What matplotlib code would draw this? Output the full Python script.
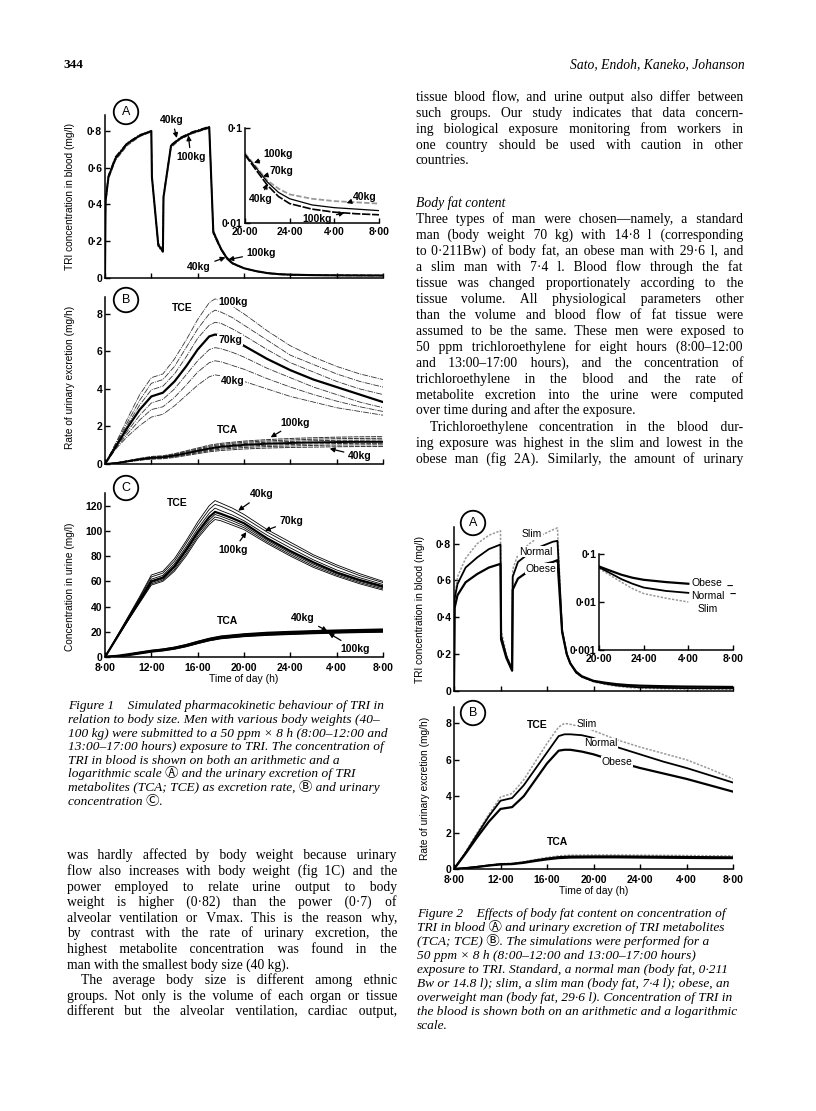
import matplotlib
matplotlib.use('Agg')
import matplotlib.pyplot as plt
from matplotlib.font_manager import FontProperties
import numpy as np

# ------------------------------------------------------------------ data
# hours after 8:00
t_blood = [0.0, 0.05, 0.3, 0.9, 1.9, 3.0, 4.0, 4.05, 4.6, 5.0, 5.05, 5.7, 6.5, 7.5, 8.5, 9.0,
           9.35, 10.0, 10.5, 11.0, 12.0, 13.0, 14.0, 15.0, 16.0, 18.0, 20.0, 22.0, 24.0]
blood_40 = [0.0, 0.40, 0.54, 0.64, 0.72, 0.77, 0.795, 0.55, 0.19, 0.155, 0.43, 0.71, 0.755, 0.785, 0.805,
            0.815, 0.26, 0.165, 0.115, 0.083, 0.054, 0.039, 0.028, 0.023, 0.020, 0.018, 0.017, 0.0165, 0.016]
blood_70 = [0.0, 0.42, 0.55, 0.65, 0.73, 0.775, 0.80, 0.55, 0.18, 0.145, 0.44, 0.72, 0.76, 0.79, 0.81,
            0.82, 0.25, 0.16, 0.11, 0.08, 0.053, 0.038, 0.027, 0.021, 0.018, 0.0155, 0.0145, 0.014, 0.0135]
blood_100 = [0.0, 0.43, 0.56, 0.66, 0.735, 0.78, 0.80, 0.55, 0.17, 0.14, 0.45, 0.725, 0.765, 0.795, 0.815,
             0.825, 0.24, 0.155, 0.105, 0.077, 0.052, 0.036, 0.025, 0.019, 0.016, 0.014, 0.013, 0.0125, 0.0122]

t_tce = [0, 1, 2, 3, 4, 5, 6, 7, 8, 9, 9.5, 10, 11, 12, 14, 16, 18, 20, 22, 24]
weights = ['40kg', '50kg', '60kg', '70kg', '80kg', '90kg', '100kg']
tce_rate = {
    '40kg':  [0, 0.85, 1.5, 2.05, 2.5, 2.65, 3.1, 3.65, 4.2, 4.65, 4.75, 4.7, 4.55, 4.4, 4.0, 3.6, 3.3, 3.0, 2.8, 2.6],
    '50kg':  [0, 0.9, 1.65, 2.35, 2.9, 3.05, 3.55, 4.2, 4.9, 5.4, 5.5, 5.45, 5.25, 5.05, 4.55, 4.1, 3.7, 3.35, 3.05, 2.8],
    '60kg':  [0, 0.95, 1.8, 2.6, 3.25, 3.45, 4.0, 4.75, 5.5, 6.1, 6.2, 6.15, 5.95, 5.7, 5.1, 4.6, 4.1, 3.7, 3.3, 3.0],
    '70kg':  [0, 1.0, 2.0, 2.9, 3.6, 3.8, 4.4, 5.2, 6.1, 6.8, 6.9, 6.85, 6.6, 6.3, 5.6, 5.0, 4.5, 4.1, 3.7, 3.3],
    '80kg':  [0, 1.1, 2.15, 3.15, 3.95, 4.15, 4.8, 5.7, 6.7, 7.4, 7.55, 7.5, 7.2, 6.85, 6.1, 5.4, 4.9, 4.4, 4.0, 3.7],
    '90kg':  [0, 1.15, 2.3, 3.4, 4.3, 4.5, 5.2, 6.2, 7.2, 8.0, 8.2, 8.1, 7.8, 7.4, 6.6, 5.8, 5.3, 4.8, 4.4, 4.1],
    '100kg': [0, 1.2, 2.5, 3.7, 4.6, 4.8, 5.6, 6.6, 7.7, 8.6, 8.8, 8.7, 8.4, 8.0, 7.1, 6.3, 5.7, 5.2, 4.8, 4.5],
}
tce_conc = {
    '40kg':  [0, 16, 32, 48, 65, 68, 78, 92, 107, 120, 124, 122, 118, 113, 101, 91, 81, 73, 66, 60],
    '50kg':  [0, 15.7, 31.3, 47, 63.5, 66.5, 76, 90, 104.5, 117, 121, 119.5, 115.5, 110.5, 99, 89, 79.5, 71.5, 64.5, 59],
    '60kg':  [0, 15.3, 30.6, 46, 61.7, 64.7, 74, 87.5, 101.7, 114, 118, 116, 112.5, 108, 96.5, 86.5, 77, 69, 62.8, 57.5],
    '70kg':  [0, 15, 30, 45, 60, 63, 72, 85, 99, 111, 115, 113.5, 110, 106, 94, 84, 75, 67, 61, 56],
    '80kg':  [0, 14.8, 29.6, 44.3, 59, 62, 70.7, 83.5, 97.3, 108.7, 113, 111.5, 108, 104, 92.5, 82.5, 73.5, 66, 60, 55],
    '90kg':  [0, 14.6, 29.3, 43.6, 58, 61, 69.3, 81.7, 95.6, 106.8, 111, 109.8, 106.2, 102.5, 91.2, 81.2, 72.2, 65, 59, 54],
    '100kg': [0, 14.5, 29, 43, 57, 60, 68, 80, 94, 105, 109, 108, 104.5, 101, 90, 80, 71, 64, 58, 53],
}
t_tca = [0, 1, 2, 3, 4, 5, 6, 7, 8, 9, 10, 12, 14, 16, 18, 20, 22, 24]
tca_rate = {
    '40kg':  [0, 0.04, 0.12, 0.2, 0.26, 0.28, 0.35, 0.45, 0.55, 0.65, 0.72, 0.8, 0.85, 0.88, 0.9, 0.92, 0.93, 0.93],
    '50kg':  [0, 0.045, 0.13, 0.22, 0.28, 0.31, 0.38, 0.49, 0.6, 0.71, 0.79, 0.88, 0.93, 0.96, 0.99, 1.01, 1.02, 1.02],
    '60kg':  [0, 0.05, 0.14, 0.23, 0.31, 0.34, 0.42, 0.53, 0.65, 0.76, 0.85, 0.95, 1.0, 1.04, 1.07, 1.09, 1.1, 1.1],
    '70kg':  [0, 0.05, 0.15, 0.25, 0.33, 0.36, 0.45, 0.57, 0.7, 0.82, 0.92, 1.02, 1.08, 1.12, 1.15, 1.17, 1.18, 1.18],
    '80kg':  [0, 0.055, 0.16, 0.27, 0.35, 0.39, 0.49, 0.62, 0.75, 0.88, 0.98, 1.09, 1.16, 1.2, 1.24, 1.26, 1.27, 1.28],
    '90kg':  [0, 0.058, 0.17, 0.28, 0.37, 0.41, 0.52, 0.66, 0.8, 0.94, 1.04, 1.16, 1.23, 1.28, 1.32, 1.35, 1.36, 1.37],
    '100kg': [0, 0.06, 0.18, 0.3, 0.4, 0.44, 0.55, 0.7, 0.85, 1.0, 1.1, 1.22, 1.3, 1.36, 1.4, 1.43, 1.45, 1.46],
}
tca_conc = {
    '40kg':  [0, 0.5, 1.9, 3.4, 4.9, 6.0, 7.5, 9.6, 12.2, 14.6, 16.4, 18.2, 19.4, 20.1, 20.7, 21.2, 21.6, 22.0],
    '70kg':  [0, 0.5, 1.8, 3.2, 4.6, 5.6, 7.0, 9.0, 11.5, 13.8, 15.5, 17.2, 18.3, 19.0, 19.6, 20.1, 20.5, 20.8],
    '100kg': [0, 0.45, 1.7, 3.0, 4.4, 5.3, 6.6, 8.5, 10.9, 13.1, 14.7, 16.4, 17.4, 18.1, 18.7, 19.2, 19.6, 19.9],
}

t_blood2 = [0, 0.05, 0.3, 1, 2, 3, 4, 4.05, 4.5, 5.0, 5.05, 5.5, 6.5, 7.5, 8.5, 8.9, 9.3, 9.7, 10, 10.5,
            11, 12, 13, 14, 15, 16, 18, 20, 22, 24]
blood2 = {
    'Slim':   [0, 0.50, 0.62, 0.72, 0.80, 0.845, 0.87, 0.33, 0.2, 0.12, 0.66, 0.74, 0.80, 0.845, 0.875, 0.885,
               0.33, 0.2, 0.15, 0.1, 0.075, 0.050, 0.036, 0.026, 0.019, 0.015, 0.012, 0.010, 0.009, 0.0085],
    'Normal': [0, 0.5, 0.58, 0.67, 0.725, 0.77, 0.795, 0.3, 0.19, 0.115, 0.62, 0.70, 0.75, 0.785, 0.81, 0.815,
               0.33, 0.2, 0.15, 0.1, 0.077, 0.053, 0.040, 0.030, 0.024, 0.020, 0.017, 0.0155, 0.0148, 0.0145],
    'Obese':  [0, 0.45, 0.52, 0.59, 0.635, 0.67, 0.69, 0.28, 0.18, 0.11, 0.55, 0.61, 0.655, 0.685, 0.70, 0.71,
               0.32, 0.2, 0.15, 0.105, 0.08, 0.055, 0.045, 0.037, 0.032, 0.029, 0.026, 0.024, 0.023, 0.022],
}
tce2 = {
    'Slim':   [0, 0.95, 2.0, 3.0, 3.95, 4.15, 4.9, 5.9, 6.9, 7.8, 8.0, 7.95, 7.8, 7.6, 7.1, 6.7, 6.35, 6.0, 5.5, 4.95],
    'Normal': [0, 0.9, 1.9, 2.9, 3.75, 3.9, 4.6, 5.5, 6.4, 7.3, 7.4, 7.4, 7.35, 7.2, 6.7, 6.3, 5.9, 5.55, 5.15, 4.75],
    'Obese':  [0, 0.85, 1.75, 2.6, 3.3, 3.4, 4.0, 4.9, 5.8, 6.5, 6.55, 6.55, 6.45, 6.3, 5.9, 5.55, 5.25, 4.95, 4.6, 4.25],
}
tca2 = {
    'Slim':   [0, 0.05, 0.13, 0.22, 0.29, 0.31, 0.4, 0.52, 0.63, 0.72, 0.76, 0.77, 0.77, 0.76, 0.75, 0.74, 0.73, 0.72],
    'Normal': [0, 0.05, 0.12, 0.2, 0.27, 0.29, 0.37, 0.48, 0.58, 0.66, 0.69, 0.70, 0.70, 0.69, 0.68, 0.67, 0.66, 0.65],
    'Obese':  [0, 0.045, 0.11, 0.19, 0.25, 0.27, 0.34, 0.44, 0.53, 0.60, 0.63, 0.64, 0.64, 0.63, 0.62, 0.61, 0.6, 0.6],
}

time_ticks = [0, 4, 8, 12, 16, 20, 24]
time_labels = ['8·00', '12·00', '16·00', '20·00', '24·00', '4·00', '8·00']
inset_ticks = [12, 16, 20, 24]
inset_labels = ['20·00', '24·00', '4·00', '8·00']

# ------------------------------------------------------------------ text
right_p1 = ["tissue blood flow, and urine output also differ between",
            "such groups. Our study indicates that data concern-",
            "ing biological exposure monitoring from workers in",
            "one country should be used with caution in other",
            "countries."]
right_head = "Body fat content"
right_p2 = ["Three types of man were chosen—namely, a standard",
            "man (body weight 70 kg) with 14·8 l (corresponding",
            "to 0·211Bw) of body fat, an obese man with 29·6 l, and",
            "a slim man with 7·4 l. Blood flow through the fat",
            "tissue was changed proportionately according to the",
            "tissue volume. All physiological parameters other",
            "than the volume and blood flow of fat tissue were",
            "assumed to be the same. These men were exposed to",
            "50 ppm trichloroethylene for eight hours (8:00–12:00",
            "and 13:00–17:00 hours), and the concentration of",
            "trichloroethylene in the blood and the rate of",
            "metabolite excretion into the urine were computed",
            "over time during and after the exposure."]
right_p3 = ["Trichloroethylene concentration in the blood dur-",
            "ing exposure was highest in the slim and lowest in the",
            "obese man (fig 2A). Similarly, the amount of urinary"]
left_p1 = ["was hardly affected by body weight because urinary",
           "flow also increases with body weight (fig 1C) and the",
           "power employed to relate urine output to body",
           "weight is higher (0·82) than the power (0·7) of",
           "alveolar ventilation or Vmax. This is the reason why,",
           "by contrast with the rate of urinary excretion, the",
           "highest metabolite concentration was found in the",
           "man with the smallest body size (40 kg)."]
left_p2 = ["The average body size is different among ethnic",
           "groups. Not only is the volume of each organ or tissue",
           "different but the alveolar ventilation, cardiac output,"]
cap1 = ["Figure 1    Simulated pharmacokinetic behaviour of TRI in",
        "relation to body size. Men with various body weights (40–",
        "100 kg) were submitted to a 50 ppm × 8 h (8:00–12:00 and",
        "13:00–17:00 hours) exposure to TRI. The concentration of",
        "TRI in blood is shown on both an arithmetic and a",
        "logarithmic scale Ⓐ and the urinary excretion of TRI",
        "metabolites (TCA; TCE) as excretion rate, Ⓑ and urinary",
        "concentration Ⓒ."]
cap2 = ["Figure 2    Effects of body fat content on concentration of",
        "TRI in blood Ⓐ and urinary excretion of TRI metabolites",
        "(TCA; TCE) Ⓑ. The simulations were performed for a",
        "50 ppm × 8 h (8:00–12:00 and 13:00–17:00 hours)",
        "exposure to TRI. Standard, a normal man (body fat, 0·211",
        "Bw or 14.8 l); slim, a slim man (body fat, 7·4 l); obese, an",
        "overweight man (body fat, 29·6 l). Concentration of TRI in",
        "the blood is shown both on an arithmetic and a logarithmic",
        "scale."]

# ------------------------------------------------------------------ figure
W, H = 816, 1111
fig = plt.figure(figsize=(W / 100, H / 100), dpi=100)
fig.patch.set_facecolor('white')
SANS = ['Liberation Sans', 'DejaVu Sans']
SERIF = ['Liberation Serif', 'DejaVu Serif', 'Noto Sans CJK JP', 'DejaVu Sans']


def px_axes(x0, x1, ytop, ybot):
    return fig.add_axes([x0 / W, 1 - ybot / H, (x1 - x0) / W, (ybot - ytop) / H])


def style(ax, yticks, ylabels, xticks, xlabels=None, xpad=4):
    for s in ['top', 'right']:
        ax.spines[s].set_visible(False)
    for s in ['left', 'bottom']:
        ax.spines[s].set_linewidth(1.1)
    ax.tick_params(direction='in', length=3.5, width=1.0, pad=2, labelsize=7.5)
    ax.tick_params(axis='x', pad=xpad)
    ax.set_yticks(yticks)
    ax.set_yticklabels(ylabels, fontweight='bold', family=SANS, fontsize=7.5)
    ax.set_xticks(xticks)
    if xlabels is None:
        ax.set_xticklabels([''] * len(xticks))
    else:
        ax.set_xticklabels(xlabels, fontweight='bold', family=SANS, fontsize=7.5)
    ax.minorticks_off()
    ax.set_facecolor('none')


LBL = dict(fontsize=7.5, fontweight='bold', family=SANS)
ARW = dict(arrowstyle='-|>', color='k', lw=0.9, mutation_scale=7, shrinkA=1, shrinkB=0)
WB = dict(fc='white', ec='none', pad=0.5)


def circ(x, y, s):
    fig.text(x / W, 1 - y / H, s, ha='center', va='center', fontsize=9, family=SANS,
             bbox=dict(boxstyle='circle,pad=0.5', fc='white', ec='k', lw=1.3))


def ylab(ax, s, x, y=0.5):
    ax.set_ylabel(s, fontsize=7.3, family=SANS)
    ax.yaxis.set_label_coords(x, y)


# ---------------- Figure 1 A
axA = px_axes(105, 383, 115, 278)
axA.plot(t_blood, blood_40, color='#555', lw=0.8, ls=(0, (5, 1.5)))
axA.plot(t_blood, blood_100, color='k', lw=0.8, ls=(0, (6, 1.5, 1, 1.5)))
axA.plot(t_blood, blood_70, color='k', lw=1.5)
axA.set_xlim(0, 24)
axA.set_ylim(0, 0.887)
style(axA, [0, 0.2, 0.4, 0.6, 0.8], ['0', '0·2', '0·4', '0·6', '0·8'], time_ticks)
ylab(axA, 'TRI concentration in blood (mg/l)', -0.108)
axA.annotate('40kg', xy=(6.2, 0.762), xytext=(5.8, 0.86), ha='center', va='center', arrowprops=ARW, **LBL)
axA.annotate('100kg', xy=(7.2, 0.776), xytext=(7.4, 0.66), ha='center', va='center', arrowprops=ARW, **LBL)
axA.annotate('100kg', xy=(10.65, 0.10), xytext=(13.5, 0.136), ha='center', va='center', arrowprops=ARW, **LBL)
axA.annotate('40kg', xy=(10.4, 0.112), xytext=(8.1, 0.06), ha='center', va='center', arrowprops=ARW, **LBL)

# inset
tb = np.array(t_blood)
m = tb >= 12
axI = px_axes(245, 379, 128, 223)
axI.plot(tb[m], np.array(blood_40)[m], color='#999', lw=1.3, ls=(0, (3, 1.2)))
axI.plot(tb[m], np.array(blood_100)[m], color='k', lw=1.2, ls=(0, (5, 1)))
axI.plot(tb[m], np.array(blood_70)[m], color='k', lw=0.9)
axI.set_yscale('log')
axI.set_xlim(12, 24)
axI.set_ylim(0.01, 0.1)
style(axI, [0.01, 0.1], ['0·01', '0·1'], inset_ticks, inset_labels, xpad=3)
axI.yaxis.set_minor_locator(matplotlib.ticker.NullLocator())
axI.annotate('100kg', xy=(12.8, 0.043), xytext=(15.0, 0.053), ha='center', va='center', arrowprops=ARW, **LBL)
axI.annotate('70kg', xy=(13.6, 0.031), xytext=(15.3, 0.035), ha='center', va='center', arrowprops=ARW, **LBL)
axI.annotate('40kg', xy=(14.0, 0.026), xytext=(13.4, 0.018), ha='center', va='center', arrowprops=ARW, **LBL)
axI.annotate('40kg', xy=(21.1, 0.0162), xytext=(22.7, 0.0187), ha='center', va='center', arrowprops=ARW, **LBL)
axI.annotate('100kg', xy=(20.9, 0.0128), xytext=(18.5, 0.011), ha='center', va='center', arrowprops=ARW, **LBL)

# ---------------- Figure 1 B
axB = px_axes(105, 383, 297, 464)
for w in weights:
    if w == '70kg':
        continue
    axB.plot(t_tce, tce_rate[w], color='#333', lw=0.6, ls=(0, (7, 1.3, 1.2, 1.3)))
    axB.plot(t_tca, tca_rate[w], color='#333', lw=0.7, ls=(0, (5, 1)))
axB.plot(t_tce, tce_rate['70kg'], color='k', lw=1.6)
axB.plot(t_tca, tca_rate['70kg'], color='k', lw=1.4)
axB.set_xlim(0, 24)
axB.set_ylim(0, 8.9)
style(axB, [0, 2, 4, 6, 8], ['0', '2', '4', '6', '8'], time_ticks)
ylab(axB, 'Rate of urinary excretion (mg/h)', -0.108, 0.52)
axB.text(6.7, 8.3, 'TCE', ha='center', va='center', **LBL)
axB.text(11.1, 8.65, '100kg', ha='center', va='center', bbox=WB, **LBL)
axB.text(10.8, 6.6, '70kg', ha='center', va='center', bbox=WB, **LBL)
axB.text(11.0, 4.43, '40kg', ha='center', va='center', bbox=WB, **LBL)
axB.text(10.6, 1.8, 'TCA', ha='center', va='center', **LBL)
axB.annotate('100kg', xy=(14.3, 1.42), xytext=(16.4, 2.2), ha='center', va='center', arrowprops=ARW, **LBL)
axB.annotate('40kg', xy=(19.4, 0.82), xytext=(22.0, 0.43), ha='center', va='center', arrowprops=ARW, **LBL)

# ---------------- Figure 1 C
axC = px_axes(105, 383, 493, 657)
for w in weights:
    axC.plot(t_tce, tce_conc[w], color='k', lw=1.6 if w == '70kg' else 0.6)
for w in ['40kg', '100kg']:
    axC.plot(t_tca, tca_conc[w], color='k', lw=1.2)
axC.plot(t_tca, tca_conc['70kg'], color='k', lw=2.2)
axC.set_xlim(0, 24)
axC.set_ylim(0, 130)
style(axC, [0, 20, 40, 60, 80, 100, 120], ['0', '20', '40', '60', '80', '100', '120'],
      time_ticks, time_labels, xpad=4)
ylab(axC, 'Concentration in urine (mg/l)', -0.108, 0.43)
axC.set_xlabel('Time of day (h)', fontsize=7.5, family=SANS, labelpad=1)
axC.text(6.2, 122, 'TCE', ha='center', va='center', **LBL)
axC.annotate('40kg', xy=(11.5, 116), xytext=(13.5, 129), ha='center', va='center', arrowprops=ARW, **LBL)
axC.annotate('70kg', xy=(13.8, 100), xytext=(16.1, 108), ha='center', va='center', arrowprops=ARW, **LBL)
axC.annotate('100kg', xy=(12.2, 99), xytext=(11.1, 85), ha='center', va='center', arrowprops=ARW, **LBL)
axC.text(10.6, 28.6, 'TCA', ha='center', va='center', **LBL)
axC.annotate('40kg', xy=(19.2, 20.5), xytext=(17.1, 31), ha='center', va='center', arrowprops=ARW, **LBL)
axC.annotate('100kg', xy=(19.3, 19), xytext=(21.6, 6.4), ha='center', va='center', arrowprops=ARW, **LBL)

circ(126, 112, 'A')
circ(126, 300, 'B')
circ(126, 488, 'C')

# ---------------- Figure 2 A
ST = {'Slim': dict(color='#999', lw=1.1, ls=(0, (1.5, 1))),
      'Normal': dict(color='k', lw=1.3),
      'Obese': dict(color='k', lw=1.6)}
a2 = px_axes(454, 733, 527, 691)
for k in ['Slim', 'Normal', 'Obese']:
    a2.plot(t_blood2, blood2[k], **ST[k])
a2.set_xlim(0, 24)
a2.set_ylim(0, 0.89)
style(a2, [0, 0.2, 0.4, 0.6, 0.8], ['0', '0·2', '0·4', '0·6', '0·8'], time_ticks)
ylab(a2, 'TRI concentration in blood (mg/l)', -0.104)
a2.text(6.7, 0.85, 'Slim', ha='center', va='center', fontsize=7.5, family=SANS, bbox=WB)
a2.text(7.0, 0.757, 'Normal', ha='center', va='center', fontsize=7.5, family=SANS, bbox=WB)
a2.text(7.5, 0.664, 'Obese', ha='center', va='center', fontsize=7.5, family=SANS, bbox=WB)

tb2 = np.array(t_blood2)
m2 = (tb2 >= 12) & (tb2 <= 20)
i2 = px_axes(599, 733, 554, 650)
for k in ['Slim', 'Normal', 'Obese']:
    i2.plot(tb2[m2], np.array(blood2[k])[m2], **ST[k])
i2.set_yscale('log')
i2.set_xlim(12, 24)
i2.set_ylim(0.001, 0.1)
style(i2, [0.001, 0.01, 0.1], ['0·001', '0·01', '0·1'], inset_ticks, inset_labels, xpad=3)
i2.yaxis.set_minor_locator(matplotlib.ticker.NullLocator())
i2.text(21.7, 0.025, 'Obese', ha='center', va='center', fontsize=7.5, family=SANS)
i2.text(21.75, 0.0133, 'Normal', ha='center', va='center', fontsize=7.5, family=SANS)
i2.text(21.75, 0.0071, 'Slim', ha='center', va='center', fontsize=7.5, family=SANS)
i2.text(23.7, 0.021, '–', ha='center', va='center', fontsize=8, fontweight='bold', family=SANS)
i2.text(24.0, 0.0142, '–', ha='center', va='center', fontsize=8, fontweight='bold', family=SANS)

# ---------------- Figure 2 B
b2 = px_axes(454, 733, 707, 869)
for k in ['Slim', 'Normal', 'Obese']:
    b2.plot(t_tce, tce2[k], **ST[k])
    b2.plot(t_tca, tca2[k], **ST[k])
b2.set_xlim(0, 24)
b2.set_ylim(0, 8.9)
style(b2, [0, 2, 4, 6, 8], ['0', '2', '4', '6', '8'], time_ticks, time_labels, xpad=4)
ylab(b2, 'Rate of urinary excretion (mg/h)', -0.086)
b2.set_xlabel('Time of day (h)', fontsize=7.5, family=SANS, labelpad=1)
b2.text(7.2, 7.9, 'TCE', ha='center', va='center', **LBL)
b2.text(11.4, 7.95, 'Slim', ha='center', va='center', fontsize=7.5, family=SANS, bbox=WB)
b2.text(12.65, 6.9, 'Normal', ha='center', va='center', fontsize=7.5, family=SANS, bbox=WB)
b2.text(14.0, 5.9, 'Obese', ha='center', va='center', fontsize=7.5, family=SANS, bbox=WB)
b2.text(8.9, 1.5, 'TCA', ha='center', va='center', **LBL)

circ(473, 523, 'A')
circ(473, 713, 'B')

# ------------------------------------------------------------------ page text
renderer = fig.canvas.get_renderer()
HS = '\u200a'   # hair space used for justification


def tw(s, fp):
    return renderer.get_text_width_height_descent(s, fp, ismath=False)[0]


def fit_size(groups, style_='normal'):
    ratio = 10.0
    fp10 = FontProperties(family=SERIF, size=10, style=style_)
    for lines, target in groups:
        for s in lines:
            ratio = min(ratio, 10.0 * target / tw(s, fp10))
    return ratio


body_size = 0.985 * fit_size([(right_p1[:-1] + right_p2[:-1] + right_p3, 327),
                              (left_p1[:-1] + left_p2, 330)])
cap_size = fit_size([(cap1, 321), (cap2, 322)], 'italic')
fp_body = FontProperties(family=SERIF, size=body_size)
fp_ital = FontProperties(family=SERIF, size=body_size, style='italic')
fp_cap = FontProperties(family=SERIF, size=cap_size, style='italic')


def justified(s, target, fp):
    words = s.split(' ')
    ngaps = len(words) - 1
    base = ' '.join(words)
    extra = target - tw(base, fp)
    unit = (tw('x' + HS * 20 + 'x', fp) - tw('xx', fp)) / 20.0
    if ngaps < 1 or extra <= 0 or unit <= 0:
        return base
    k = int(round(extra / unit))
    out = words[0]
    for i, w in enumerate(words[1:]):
        n = (i + 1) * k // ngaps - i * k // ngaps
        out += ' ' + HS * n + w
    return out


def line(x0, x1, ycen, s, fp, justify=False, indent=0.0):
    yb = ycen + 3.5
    txt = justified(s, x1 - x0 - indent, fp) if justify else s
    fig.text((x0 + indent) / W, 1 - yb / H, txt, fontproperties=fp, va='baseline', ha='left')


def para(lines, x0, x1, y0, step, fp, last_just=False, indent=0.0):
    for i, s in enumerate(lines):
        just = (i < len(lines) - 1) or last_just
        line(x0, x1, y0 + i * step, s, fp, just, indent if i == 0 else 0.0)


fig.text(63 / W, 1 - 68.5 / H, '344', fontproperties=FontProperties(family=SERIF, size=9.5, weight='bold'),
         va='baseline', ha='left')
fig.text(745 / W, 1 - 68.5 / H, 'Sato, Endoh, Kaneko, Johanson',
         fontproperties=FontProperties(family=SERIF, size=9.8, style='italic'), va='baseline', ha='right')

RX0, RX1 = 416, 743
para(right_p1, RX0, RX1, 97, 16, fp_body)
line(RX0, RX1, 203, right_head, fp_ital)
para(right_p2, RX0, RX1, 219, 16, fp_body)
para(right_p3, RX0, RX1, 427, 16, fp_body, last_just=True, indent=14)

LX0, LX1 = 67, 397
para(left_p1, LX0, LX1, 856, 15.6, fp_body)
para(left_p2, LX0, LX1, 856 + 8 * 15.6, 15.6, fp_body, last_just=True, indent=14)

for i, s in enumerate(cap1):
    line(68, 388, 706 + i * 13.6, s, fp_cap)
for i, s in enumerate(cap2):
    line(417, 740, 914 + i * 13.9, s, fp_cap)

fig.savefig('out.png', dpi=100)
